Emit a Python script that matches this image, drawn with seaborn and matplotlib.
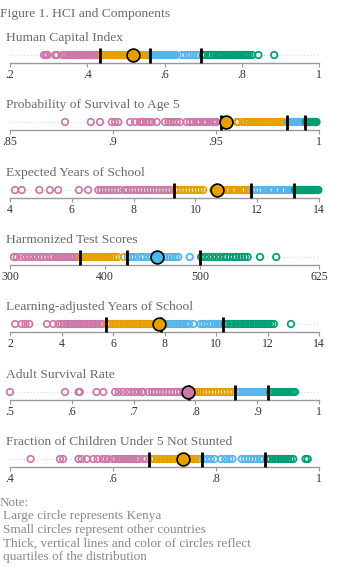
import matplotlib
matplotlib.use("Agg")
import matplotlib.pyplot as plt
import seaborn as sns
import pandas as pd
import numpy as np

sns.set_theme(style="white")
plt.rcParams['font.family'] = ['Liberation Serif', 'DejaVu Serif']

# ---------------- data ----------------
titles = ["Human Capital Index", "Probability of Survival to Age 5",
          "Expected Years of School", "Harmonized Test Scores",
          "Learning-adjusted Years of School", "Adult Survival Rate",
          "Fraction of Children Under 5 Not Stunted"]

hci = [0.288, 0.293, 0.297, 0.317, 0.322, 0.336, 0.342, 0.347, 0.352, 0.356, 0.360, 0.364,
       0.368, 0.371, 0.375, 0.378, 0.382, 0.385, 0.388, 0.392, 0.395, 0.398, 0.401, 0.404,
       0.407, 0.410, 0.413, 0.416, 0.419, 0.422, 0.425,
       0.437, 0.441, 0.445, 0.449, 0.453, 0.457, 0.461, 0.465, 0.469, 0.473, 0.477, 0.481,
       0.485, 0.489, 0.493, 0.497, 0.501, 0.505, 0.509, 0.513, 0.522, 0.526, 0.530, 0.534,
       0.538, 0.542, 0.546, 0.550, 0.554, 0.558,
       0.566, 0.570, 0.574, 0.578, 0.582, 0.586, 0.590, 0.594, 0.598, 0.602, 0.606, 0.610,
       0.614, 0.618, 0.622, 0.626, 0.630, 0.645, 0.652, 0.660, 0.667, 0.675, 0.682, 0.688,
       0.700, 0.706, 0.713, 0.720, 0.728, 0.734, 0.740, 0.745, 0.750, 0.755, 0.760, 0.765,
       0.770, 0.775, 0.780, 0.785, 0.790, 0.795, 0.800, 0.805, 0.810, 0.815, 0.820, 0.827,
       0.843, 0.884]
survival = [0.8767, 0.8892, 0.8937, 0.8994, 0.9010, 0.9026, 0.9083, 0.9107, 0.9131, 0.9140,
            0.9147, 0.9163, 0.9175, 0.9188, 0.9212, 0.9252, 0.9269, 0.9280, 0.9293, 0.9309,
            0.9325, 0.9358, 0.9374, 0.9390, 0.9406, 0.9414, 0.9422, 0.9438, 0.9446, 0.9454,
            0.9470, 0.9486, 0.9495, 0.9503,
            0.9600, 0.9608, 0.9630, 0.9645, 0.9655, 0.9670, 0.9680, 0.9690, 0.9700, 0.9710,
            0.9720, 0.9730, 0.9740, 0.9750, 0.9760, 0.9770, 0.9780, 0.9790, 0.9800, 0.9810,
            0.9815, 0.9820, 0.9828,
            0.9850, 0.9858, 0.9866, 0.9874, 0.9882, 0.9890, 0.9898, 0.9906, 0.9914, 0.9922,
            0.9928,
            0.9936, 0.9942, 0.9948, 0.9954, 0.9960, 0.9966, 0.9972, 0.9978, 0.9984, 0.9988]
school = [4.16, 4.38, 4.95, 5.29, 5.56, 6.23, 6.53, 6.86, 6.95, 7.05, 7.15, 7.25, 7.35,
          7.45, 7.55, 7.72, 7.80, 7.90, 8.00, 8.10, 8.20, 8.30, 8.40, 8.50, 8.60, 8.70,
          8.80, 8.90, 9.00, 9.10, 9.20,
          9.35, 9.45, 9.55, 9.65, 9.75, 9.85, 9.95, 10.05, 10.15, 10.25, 10.58, 10.80,
          10.85, 10.90, 11.00, 11.05, 11.10, 11.20, 11.25, 11.30, 11.40, 11.50, 11.55,
          11.60, 11.70, 11.75,
          11.85, 11.95, 12.05, 12.15, 12.25, 12.30, 12.40, 12.45, 12.50, 12.60, 12.65,
          12.70, 12.80, 12.85, 12.90, 13.00, 13.05, 13.10, 13.15,
          13.22, 13.27, 13.30, 13.35, 13.40, 13.45, 13.50, 13.55, 13.60, 13.62, 13.66,
          13.70, 13.75, 13.80, 13.85, 13.90, 13.95, 13.98]
scores = [304, 307, 312, 316, 320, 324, 328, 332, 335, 338, 342, 345, 348, 350, 353, 356,
          358, 361, 364, 366, 368, 370,
          375, 378, 380, 383, 386, 388, 391, 394, 396, 399, 402, 404, 407, 410, 413, 420,
          424, 427, 430, 434, 438, 441, 445, 449, 452, 459, 462, 465, 468, 471, 474, 477, 489,
          501, 505, 509, 513, 517, 521, 525, 528, 531, 535, 538, 541, 544, 547, 550, 563, 580]
lays = [2.20, 2.45, 2.60, 2.75, 3.43, 3.68, 3.88, 4.00, 4.10, 4.20, 4.30, 4.40, 4.50, 4.60,
        4.70, 4.80, 4.90, 5.00, 5.10, 5.20, 5.30, 5.40, 5.50, 5.60,
        5.80, 5.90, 6.00, 6.10, 6.20, 6.30, 6.40, 6.50, 6.60, 6.70, 6.80, 6.90, 7.00, 7.10,
        7.20, 7.30, 7.40, 7.50, 7.60, 7.70,
        7.95, 8.05, 8.15, 8.25, 8.35, 8.45, 8.55, 8.65, 8.75, 8.85, 8.95, 9.12, 9.40, 9.50,
        9.60, 9.75, 9.85, 9.95, 10.05, 10.15, 10.22,
        10.35, 10.45, 10.55, 10.65, 10.75, 10.85, 10.95, 11.05, 11.15, 11.25, 11.35, 11.45,
        11.55, 11.65, 11.75, 11.85, 11.95, 12.05, 12.15, 12.25, 12.91]
adult = [0.500, 0.589, 0.611, 0.613, 0.640, 0.651, 0.670, 0.676, 0.683, 0.690, 0.696, 0.702,
         0.708, 0.713, 0.715, 0.724, 0.730, 0.735, 0.740, 0.745, 0.750, 0.755, 0.760, 0.765,
         0.770, 0.775, 0.780,
         0.794, 0.798, 0.802, 0.806, 0.810, 0.815, 0.820, 0.825, 0.830, 0.835, 0.840, 0.845,
         0.850, 0.855, 0.860,
         0.868, 0.872, 0.876, 0.880, 0.884, 0.888, 0.892, 0.896, 0.900, 0.904, 0.908, 0.912,
         0.916,
         0.921, 0.925, 0.929, 0.933, 0.937, 0.941, 0.945, 0.949, 0.952, 0.955, 0.958, 0.961]
stunt = [0.440, 0.497, 0.503, 0.533, 0.539, 0.549, 0.562, 0.570, 0.580, 0.585, 0.590, 0.600,
         0.605, 0.610, 0.615, 0.620, 0.625, 0.630, 0.635, 0.640, 0.645, 0.650, 0.658, 0.664,
         0.675, 0.680, 0.685, 0.690, 0.695, 0.700, 0.705, 0.710, 0.715, 0.720, 0.725, 0.730,
         0.745, 0.750, 0.755, 0.760, 0.765, 0.770,
         0.776, 0.783, 0.790, 0.797, 0.810, 0.818, 0.826, 0.832, 0.850, 0.856, 0.862, 0.868,
         0.874, 0.880, 0.886, 0.890,
         0.900, 0.905, 0.910, 0.915, 0.920, 0.925, 0.930, 0.935, 0.940, 0.945, 0.950,
         0.974, 0.978]

series = [hci, survival, school, scores, lays, adult, stunt]
kenya = [0.518, 0.9547, 10.70, 455, 7.80, 0.788, 0.7365]
cuts = [[0.433, 0.562, 0.694], [0.9523, 0.9846, 0.9932], [9.30, 11.79, 13.19],
        [373.6, 422.7, 500.0], [5.73, 7.86, 10.26], [0.790, 0.864, 0.918],
        [0.670, 0.772, 0.895]]
ticks = [[0.2, 0.4, 0.6, 0.8, 1.0], [0.85, 0.9, 0.95, 1.0], [4, 6, 8, 10, 12, 14],
         [300, 400, 500, 625], [2, 4, 6, 8, 10, 12, 14], [0.5, 0.6, 0.7, 0.8, 0.9, 1.0],
         [0.4, 0.6, 0.8, 1.0]]
tick_labels = [[".2", ".4", ".6", ".8", "1"], [".85", ".9", ".95", "1"],
               ["4", "6", "8", "10", "12", "14"], ["300", "400", "500", "625"],
               ["2", "4", "6", "8", "10", "12", "14"], [".5", ".6", ".7", ".8", ".9", "1"],
               [".4", ".6", ".8", "1"]]
quartile_names = ["Q1", "Q2", "Q3", "Q4"]
palette = {"Q1": "#CC79A7", "Q2": "#E69F00", "Q3": "#56B4E9", "Q4": "#009E73"}

# ---------------- layout ----------------
W, H = 340, 570
fig = plt.figure(figsize=(W / 100, H / 100), dpi=100)
circle_y = [55, 122, 190, 257, 324, 392, 459]
half = 8
left_px, right_px = 10, 319

title_col = "#6a6a6a"
fig.text(0 / W, 1 - 14 / H, "Figure 1. HCI and Components", fontsize=9.7,
         color=title_col, va="center", ha="left")


def quart(v, c):
    return quartile_names[int(np.searchsorted(c, v, side="right"))]


for i in range(7):
    cy = circle_y[i]
    ax = fig.add_axes([left_px / W, 1 - (cy + half) / H, (right_px - left_px) / W, 2 * half / H])
    vals = series[i]
    df = pd.DataFrame({"value": vals, "y": np.zeros(len(vals)),
                       "quartile": [quart(v, cuts[i]) for v in vals]})
    ax.axhline(0, color="#d9d9d9", lw=0.8, ls=(0, (1, 2)), zorder=0)
    sns.scatterplot(data=df, x="value", y="y", hue="quartile", palette=palette,
                    hue_order=quartile_names, s=22, linewidth=1.25, legend=False, ax=ax,
                    zorder=2)
    coll = ax.collections[-1]
    fc = coll.get_facecolors()
    coll.set_edgecolors(fc)
    coll.set_facecolors("none")
    ax.vlines(cuts[i], -1.0, 0.9, color="black", lw=2.0, zorder=3)
    kdf = pd.DataFrame({"value": [kenya[i]], "y": [0.0],
                        "quartile": [quart(kenya[i], cuts[i])]})
    sns.scatterplot(data=kdf, x="value", y="y", hue="quartile", palette=palette,
                    s=85, edgecolor="black", linewidth=1.2, legend=False, ax=ax, zorder=4)
    ax.set_xlim(ticks[i][0], ticks[i][-1])
    ax.set_ylim(-1, 1)
    ax.set_xticks(ticks[i])
    ax.set_xticklabels(tick_labels[i])
    ax.set_yticks([])
    ax.set_xlabel("")
    ax.set_ylabel("")
    for s in ["top", "left", "right"]:
        ax.spines[s].set_visible(False)
    ax.spines["bottom"].set_color("#999999")
    ax.spines["bottom"].set_linewidth(1.0)
    ax.tick_params(axis="x", length=3, width=0.8, color="#999999", pad=1,
                   labelsize=8.5, labelcolor="#333333", bottom=True)
    ax.patch.set_alpha(0)
    for a in ax.collections:
        a.set_clip_on(False)
    fig.text(6 / W, 1 - (cy - 17) / H, titles[i], fontsize=9.7, color=title_col,
             va="center", ha="left")

note_col = "#8a8a8a"
fig.text(0 / W, 1 - 503 / H, "Note:", fontsize=9.5, color=note_col, va="center")
notes = ["Large circle represents Kenya", "Small circles represent other countries",
         "Thick, vertical lines and color of circles reflect", "quartiles of the distribution"]
for k, t in enumerate(notes):
    fig.text(3 / W, 1 - (516 + 13.7 * k) / H, t, fontsize=9.5, color=note_col, va="center")

fig.savefig("out.png", dpi=100)
